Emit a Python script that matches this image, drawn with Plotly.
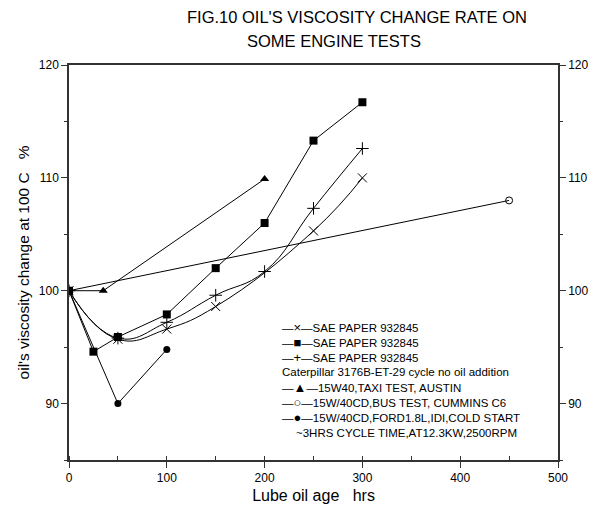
import plotly.graph_objects as go

# ---- data ----
x_sae1 = [0, 50, 100, 150, 250, 300]
y_sae1 = [100, 95.7, 96.6, 98.6, 105.3, 110.0]

x_sae2 = [0, 25, 50, 100, 150, 200, 250, 300]
y_sae2 = [100, 94.6, 95.9, 97.9, 102.0, 106.0, 113.3, 116.7]

x_sae3 = [0, 50, 100, 150, 200, 250, 300]
y_sae3 = [100, 95.8, 97.2, 99.6, 101.7, 107.3, 112.6]

x_taxi = [0, 35, 200]
y_taxi = [100, 100, 109.9]

x_bus = [0, 450]
y_bus = [100, 108.0]

x_ford = [0, 50, 100]
y_ford = [100, 90.0, 94.8]

names = ["SAE PAPER 932845", "SAE PAPER 932845", "SAE PAPER 932845",
         "15W40,TAXI TEST, AUSTIN", "15W/40CD,BUS TEST, CUMMINS C6",
         "15W/40CD,FORD1.8L,IDI,COLD START"]
legend_glyphs = ["×", "■", "+", "▲", "○", "●"]
note1 = "Caterpillar 3176B-ET-29 cycle no oil addition"
note2 = "~3HRS CYCLE TIME,AT12.3KW,2500RPM"
x_ticks = [0, 100, 200, 300, 400, 500]
y_ticks = [90, 100, 110, 120]

FONT = "Liberation Sans, Arial, sans-serif"
BLK = "#000000"

fig = go.Figure()
line = dict(color=BLK, width=1)

fig.add_trace(go.Scatter(x=x_sae1, y=y_sae1, name=names[0], mode="lines+markers",
                         line=dict(color=BLK, width=1, shape="spline", smoothing=1.3),
                         marker=dict(symbol="x-thin", size=9, color=BLK, line=dict(color=BLK, width=1))))
fig.add_trace(go.Scatter(x=x_sae2, y=y_sae2, name=names[1], mode="lines+markers",
                         line=line,
                         marker=dict(symbol="square", size=8, color=BLK)))
fig.add_trace(go.Scatter(x=x_sae3, y=y_sae3, name=names[2], mode="lines+markers",
                         line=dict(color=BLK, width=1, shape="spline", smoothing=1.3),
                         marker=dict(symbol="cross-thin", size=9, color=BLK, line=dict(color=BLK, width=1))))
fig.add_trace(go.Scatter(x=x_taxi, y=y_taxi, name=names[3], mode="lines+markers",
                         line=line,
                         marker=dict(symbol="triangle-up", size=8, color=BLK)))
fig.add_trace(go.Scatter(x=x_bus, y=y_bus, name=names[4], mode="lines+markers",
                         line=line, yaxis="y2",
                         marker=dict(symbol="circle-open", size=7, color=BLK, line=dict(color=BLK, width=1))))
fig.add_trace(go.Scatter(x=x_ford, y=y_ford, name=names[5], mode="lines+markers",
                         line=line,
                         marker=dict(symbol="circle", size=7, color=BLK)))

L, R, T, B = 69, 40, 65, 50
W, H = 598, 510
pw = W - L - R
ph = H - T - B

def px(xp):
    return (xp - L) / pw

def py(yp):
    return (H - B - yp) / ph

axis_common = dict(showgrid=False, zeroline=False, showline=True, linecolor="#333333",
                   linewidth=1.5, tickcolor="#333333", automargin=False,
                   tickfont=dict(family=FONT, size=12, color=BLK))

fig.update_layout(
    width=W, height=H,
    margin=dict(l=L, r=R, t=T, b=B, autoexpand=False),
    paper_bgcolor="white", plot_bgcolor="white",
    font=dict(family=FONT, color=BLK),
    showlegend=False,
    xaxis=dict(range=[0, 500], tickvals=x_ticks, ticks="outside", ticklen=6, mirror=True,
               minor=dict(dtick=50, ticks="inside", ticklen=4, tickcolor="#333333"),
               title=dict(text="Lube oil age   hrs", font=dict(family=FONT, size=16), standoff=6),
               **axis_common),
    yaxis=dict(range=[85, 120], tickvals=y_ticks, ticks="outside", ticklen=6,
               minor=dict(dtick=5, ticks="outside", ticklen=3, tickcolor="#333333"),
               title=dict(text="oil's viscosity change at 100 C   %", font=dict(family=FONT, size=15.5), standoff=5),
               **axis_common),
    yaxis2=dict(range=[85, 120], tickvals=y_ticks, ticks="outside", ticklen=6, overlaying="y", side="right",
                minor=dict(dtick=5, ticks="outside", ticklen=3, tickcolor="#333333"),
                **axis_common),
)

# legend block as text lines, one annotation per line
def glyph(g):
    return '<span style="font-size:13px">' + g + '</span>'

lines = []
for i in range(3):
    lines.append(("—" + glyph(legend_glyphs[i]) + "—" + names[i], 0))
lines.append((note1, 0))
for i in range(3, 6):
    lines.append(("—" + glyph(legend_glyphs[i]) + "—" + names[i], 0))
lines.append((note2, 14))

LEG_X, LEG_Y, LEG_DY = 281, 327, 15.1
for k, (txt, indent) in enumerate(lines):
    fig.add_annotation(text=txt, xref="paper", yref="paper",
                       x=px(LEG_X + indent), y=py(LEG_Y + k * LEG_DY),
                       xanchor="left", yanchor="middle", align="left",
                       showarrow=False, borderpad=0,
                       font=dict(family=FONT, size=11.5, color=BLK))

fig.add_annotation(text="FIG.10 OIL'S VISCOSITY CHANGE RATE ON", xref="paper", yref="paper",
                   x=px(185), y=py(17), xanchor="left", yanchor="middle", showarrow=False,
                   font=dict(family=FONT, size=16.5, color=BLK))
fig.add_annotation(text="SOME ENGINE TESTS", xref="paper", yref="paper",
                   x=px(245), y=py(41), xanchor="left", yanchor="middle", showarrow=False,
                   font=dict(family=FONT, size=16.5, color=BLK))

fig.write_html("out.html")
